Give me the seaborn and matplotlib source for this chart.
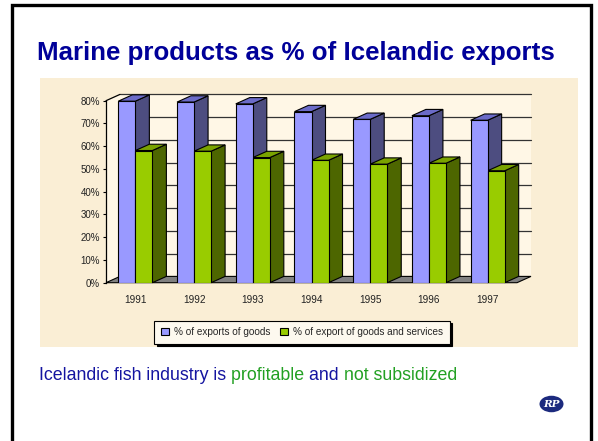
import matplotlib
matplotlib.use("Agg")
import matplotlib.pyplot as plt
from matplotlib.patches import Polygon, Rectangle, Ellipse, Patch
import numpy as np
import pandas as pd
import seaborn as sns

# ---- data -------------------------------------------------------------
years = ["1991", "1992", "1993", "1994", "1995", "1996", "1997"]
goods = [79.8, 79.4, 78.6, 75.2, 71.8, 73.4, 71.4]
goods_services = [58.1, 57.8, 55.0, 53.8, 52.1, 52.5, 49.2]
series_names = ["% of exports of goods", "% of export of goods and services"]
y_ticks = [0, 10, 20, 30, 40, 50, 60, 70, 80]
y_tick_labels = [f"{t}%" for t in y_ticks]

title = "Marine products as % of Icelandic exports"
footer_parts = [("Icelandic fish industry is ", "#1414a0"),
                ("profitable ", "#22a022"),
                ("and ", "#1414a0"),
                ("not subsidized", "#22a022")]

# ---- styling ----------------------------------------------------------
front_colors = ["#9999ff", "#99cc00"]
side_colors = ["#4d4d80", "#4d6600"]
top_colors = ["#6b6bc8", "#7aa300"]
wall_color = "#fff7e6"
panel_color = "#faeed5"
floor_color = "#808080"
depth_px = (14.0, 6.3)   # horizontal / vertical shift of the back plane

sns.set_theme(style="white")
plt.rcParams["font.family"] = ["Liberation Sans", "DejaVu Sans"]

W, H = 598, 441
fig = plt.figure(figsize=(W / 100, H / 100), dpi=100)
fig.patch.set_facecolor("white")

# slide canvas in pixel coordinates
bg = fig.add_axes([0, 0, 1, 1])
bg.set_xlim(0, W)
bg.set_ylim(H, 0)
bg.axis("off")
bg.add_patch(Rectangle((12, 5), 579, 440, facecolor="white",
                       edgecolor="black", linewidth=2.4))
bg.add_patch(Rectangle((40, 78), 538, 269, facecolor=panel_color,
                       edgecolor="none"))
bg.text(37, 53, title, fontsize=18.6, fontweight="bold", color="#000099",
        ha="left", va="center")

# logo
bg.add_patch(Ellipse((551.5, 404), 24, 16.5, facecolor="#1c2a7e",
                     edgecolor="none"))
bg.text(551.5, 404.5, "RP", fontsize=7.5, color="white", style="italic",
        family="DejaVu Serif", ha="center", va="center", fontweight="bold")

# ---- chart ------------------------------------------------------------
x0, x1 = 106, 517
y0, y1 = 282.7, 100.7
ax = fig.add_axes([x0 / W, 1 - y0 / H, (x1 - x0) / W, (y0 - y1) / H])
ax.set_facecolor("none")

df = pd.DataFrame({
    "year": years * 2,
    "value": goods + goods_services,
    "series": [series_names[0]] * len(years) + [series_names[1]] * len(years),
})
sns.barplot(data=df, x="year", y="value", hue="series",
            hue_order=series_names, palette=front_colors, saturation=1,
            width=0.58, edgecolor="black", linewidth=0.8, legend=False,
            ax=ax, zorder=3)
bars = list(ax.patches)

n = len(years)
ax.set_xlim(-0.5, n - 0.5)
ax.set_ylim(0, 80)

# back-plane offset in data units
ddx = depth_px[0] * n / ax.bbox.width
ddy = depth_px[1] * 80 / ax.bbox.height
xl, xr = -0.5, n - 0.5
ytop = y_ticks[-1]

# back wall, side wall, floor
ax.add_patch(Rectangle((xl + ddx, ddy), xr - xl, ytop, facecolor=wall_color,
                       edgecolor="none", zorder=0.5, clip_on=False))
ax.add_patch(Polygon([(xl, 0), (xl, ytop), (xl + ddx, ytop + ddy),
                      (xl + ddx, ddy)], closed=True, facecolor=wall_color,
                     edgecolor="none", zorder=0.6, clip_on=False))
ax.plot([xl, xl + ddx], [ytop, ytop + ddy], color="black", lw=0.9,
        zorder=1.2, clip_on=False)
for t in y_ticks[1:]:
    ax.plot([xl + ddx, xr + ddx], [t + ddy, t + ddy], color="#333333",
            lw=0.9, zorder=1, clip_on=False)
ax.add_patch(Polygon([(xl, 0), (xr, 0), (xr + ddx, ddy), (xl + ddx, ddy)],
                     closed=True, facecolor=floor_color, edgecolor="black",
                     linewidth=0.8, zorder=1.5, clip_on=False))

# side and top faces of each column
for b in bars:
    fc = np.array(b.get_facecolor()[:3])
    k = int(np.argmin([np.abs(fc - np.array(matplotlib.colors.to_rgb(c))).sum()
                       for c in front_colors]))
    bx, by = b.get_x(), b.get_y()
    bw, bh = b.get_width(), b.get_height()
    side = [(bx + bw, by), (bx + bw + ddx, by + ddy),
            (bx + bw + ddx, bh + ddy), (bx + bw, bh)]
    top = [(bx, bh), (bx + bw, bh), (bx + bw + ddx, bh + ddy),
           (bx + ddx, bh + ddy)]
    ax.add_patch(Polygon(side, closed=True, facecolor=side_colors[k],
                         edgecolor="black", linewidth=0.8, zorder=2,
                         clip_on=False))
    ax.add_patch(Polygon(top, closed=True, facecolor=top_colors[k],
                         edgecolor="black", linewidth=0.8, zorder=2.5,
                         clip_on=False))

# axes decoration
for s in ["top", "right", "bottom"]:
    ax.spines[s].set_visible(False)
ax.spines["left"].set_color("black")
ax.spines["left"].set_linewidth(0.9)
ax.spines["left"].set_zorder(1.3)
ax.set_yticks(y_ticks)
ax.set_yticklabels(y_tick_labels)
ax.tick_params(axis="y", which="major", left=True, length=2.4, width=0.8,
               color="black", pad=2.0, labelsize=7, labelcolor="#222222")
ax.tick_params(axis="x", bottom=False, pad=2.5, labelsize=7.2,
               labelcolor="#222222")
ax.set_xlabel("")
ax.set_ylabel("")
ax.grid(False)

# legend
handles = [Patch(facecolor=c, edgecolor="black", linewidth=0.8)
           for c in front_colors]
leg = fig.legend(handles, series_names, loc="center",
                 bbox_to_anchor=(302 / W, 1 - 332 / H), ncol=2, fontsize=7.2,
                 frameon=True, fancybox=False, framealpha=1,
                 facecolor="#fdf9ef", edgecolor="black",
                 shadow={"color": "black", "alpha": 1},
                 handlelength=0.8, handleheight=0.8, handletextpad=0.5,
                 columnspacing=1.0, borderpad=0.65, borderaxespad=0)
leg.get_frame().set_linewidth(0.8)

# footer line in two colours
fig.canvas.draw()
renderer = fig.canvas.get_renderer()
fx, fy = 39, 376
fsize = 12.8
prefix = ""
probe = bg.text(0, 0, "p", fontsize=fsize, alpha=0)
pw = probe.get_window_extent(renderer).width
for txt, col in footer_parts:
    if prefix:
        probe.set_text(prefix + "p")
        off = probe.get_window_extent(renderer).width - pw
    else:
        off = 0
    bg.text(fx + off, fy, txt, fontsize=fsize, color=col, ha="left",
            va="center")
    prefix += txt
probe.remove()

fig.savefig("out.png", dpi=100, facecolor="white")
